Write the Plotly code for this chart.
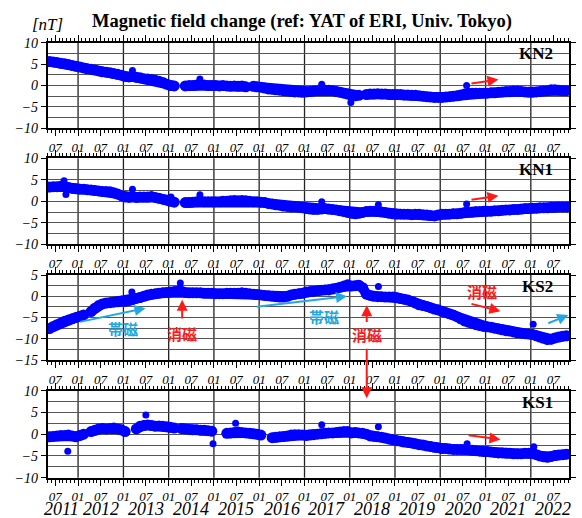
import pandas as pd
import plotly.graph_objects as go

N = None
# monthly values (mid-month), May 2011 .. Oct 2022
months = pd.date_range("2011-05-01", periods=138, freq="MS") + pd.Timedelta(days=14)

kn2 = ([5.6, 5.5, 5.4, 5.2, 5.1, 4.9, 4.7, 4.5] +
       [4.3, 4.1, 3.9, 3.8, 3.6, 3.4, 3.2, 3.1, 3.0, 2.8, 2.6, 2.4] +
       [2.1, 2.0, 2.1, 1.9, 1.8, 1.6, 1.5, 1.4, 1.2, 1.0, 0.7, 0.3] +
       [0.0, -0.1, N, N, -0.1, 0.0, 0.0, 0.1, 0.2, 0.1, 0.0, 0.0] +
       [0.0, -0.1, 0.0, -0.1, -0.2, -0.1, -0.2, -0.1, -0.3, N, -0.2, -0.3] +
       [-0.4, -0.6, -0.8, -0.9, -1.0, -1.1, -1.2, -1.3, -1.4, -1.5, -1.5, -1.6] +
       [-1.5, -1.4, -1.3, -1.2, -1.2, -1.1, -1.1, -1.2, -1.4, -1.6, -1.8, -2.0] +
       [-2.3, -2.4, -2.3, N, -2.1, -2.0, -2.0, -1.9, -2.0, -2.0, -2.1, -2.1] +
       [-2.1, -2.1, -2.2, -2.2, -2.3, -2.3, -2.4, -2.5, -2.6, -2.7, -2.8, -2.8] +
       [-2.8, -2.7, -2.6, -2.5, -2.4, -2.2, -2.0, -1.8, -1.8, -1.8, -1.8, -1.8] +
       [-1.8, -1.7, -1.7, -1.6, -1.5, -1.4, -1.4, -1.3, -1.3, -1.4, -1.5, -1.6] +
       [-1.6, -1.5, -1.4, -1.3, -1.2, -1.0, -1.0, -1.1, -1.2, -1.2])

kn1 = ([3.3, 3.4, 3.4, 3.5, 3.4, 3.2, 3.0, 2.9] +
       [2.8, 2.8, 2.7, 2.6, 2.5, 2.4, 2.3, 2.3, 2.2, 2.0, 1.7, 1.3] +
       [1.0, 0.9, 1.0, 0.9, 1.0, 1.0, 1.0, 1.1, 0.9, 0.7, 0.5, 0.3] +
       [0.0, -0.2, N, N, -0.3, -0.3, -0.2, -0.1, 0.0, -0.1, -0.1, -0.1] +
       [-0.1, -0.1, 0.0, 0.0, 0.1, 0.2, 0.1, 0.2, 0.1, 0.0, -0.1, -0.1] +
       [-0.2, -0.3, -0.5, -0.6, -0.8, -0.9, -1.1, -1.2, -1.3, -1.3, -1.4, -1.5] +
       [-1.7, -1.8, -1.9, -1.9, -1.8, -1.7, -1.8, -1.9, -2.0, -2.2, -2.4, -2.6] +
       [-2.8, -2.9, -2.8, -2.6, -2.4, -2.3, -2.3, -2.4, -2.5, -2.6, -2.8, -2.9] +
       [-3.0, -3.0, -3.0, -3.0, -3.1, -3.0, -3.0, -3.1, -3.2, -3.3, -3.4, -3.2] +
       [-3.0, -3.0, -3.0, -2.9, -2.9, -2.8, -2.6, -2.5, -2.5, -2.4, -2.4, -2.3] +
       [-2.3, -2.3, -2.2, -2.2, -2.1, -2.0, -2.0, -1.9, -1.9, -1.8, -1.7, -1.7] +
       [-1.6, -1.6, -1.5, -1.5, -1.5, -1.4, -1.4, -1.3, -1.3, -1.3])

ks2 = ([-7.6, -7.1, -6.7, -6.3, -5.9, -5.6, -5.3, -5.0] +
       [-4.7, -4.4, N, -3.6, -2.8, -2.2, -1.8, -1.6, -1.5, -1.4, -1.3, -1.2] +
       [-1.2, -1.0, -0.8, -0.5, -0.3, 0.0, 0.3, 0.5, 0.6, 0.7, 0.8, 0.9] +
       [1.0, 1.1, 1.2, 1.2, 0.9, 0.8, 0.8, 0.8, 0.8, 0.7, 0.7, 0.7] +
       [0.6, 0.6, 0.6, 0.7, 0.7, 0.7, 0.7, 0.8, 0.7, 0.6, 0.5, 0.4] +
       [0.3, 0.2, 0.1, 0.0, -0.1, -0.2, -0.2, 0.0, 0.3, 0.5, 0.6, 0.7] +
       [1.0, 1.1, 1.2, 1.3, 1.4, 1.5, 1.5, 1.7, 1.9, 2.1, 2.4, 2.7] +
       [2.4, 2.5, 2.6, 2.0, 0.5, 0.2, 0.0, -0.1, -0.1, -0.2, -0.2, -0.2] +
       [-0.3, -0.5, -0.7, -0.9, -1.2, -1.6, -2.0, -2.2, -2.4, -2.7, -3.0, -3.2] +
       [-3.5, -3.8, -4.1, -4.4, -4.8, -5.3, -5.8, -6.1, -6.4, -6.7, -6.9, -7.1] +
       [-7.2, -7.3, -7.5, -7.7, -7.9, -8.1, -8.2, -8.4, -8.6, -8.7, -8.8, -8.9] +
       [-9.0, -9.3, -9.6, -9.9, -10.2, -10.1, -9.8, -9.6, -9.4, -9.3])

ks1 = ([-0.6, -0.5, -0.4, -0.3, -0.3, -0.2, -0.4, -0.6] +
       [-0.3, 0.0, N, 0.6, 0.9, 1.2, 1.3, 1.2, 1.3, 1.4, 1.2, 1.0] +
       [0.6, N, N, 1.2, 1.8, 2.0, 2.1, 2.0, 1.8, 1.9, 1.8, 1.7] +
       [1.6, 1.4, N, 1.3, 1.2, 1.1, 1.0, 1.0, 0.9, 0.9, 0.8, 0.7] +
       [N, N, N, 0.2, 0.3, 0.4, 0.5, 0.4, 0.3, 0.2, 0.1, 0.0] +
       [-0.2, N, N, -0.8, -0.7, -0.6, -0.5, -0.4, -0.2, -0.1, -0.1, -0.2] +
       [-0.3, -0.2, -0.1, 0.0, 0.1, 0.2, 0.3, 0.3, 0.4, 0.5, 0.6, 0.6] +
       [0.3, 0.4, 0.3, 0.2, 0.0, -0.4, -0.5, -0.6, -0.7, -0.9, -1.1, -1.3] +
       [-1.5, -1.6, -1.8, -1.9, -2.0, -2.2, -2.4, -2.5, -2.7, -2.8, -3.0, -3.1] +
       [-3.3, -3.3, -3.4, -3.5, -3.5, -3.5, -3.5, -3.6, -3.7, -3.8, -3.9, -4.0] +
       [-4.0, -4.1, -4.2, -4.3, -4.3, -4.4, -4.4, -4.5, -4.5, -4.5, -4.4, -4.4] +
       [-4.4, -4.7, -5.0, -5.2, -5.3, -5.1, -4.9, -4.8, -4.7, -4.6])

# isolated spikes
kn2_out_t = ["2013-03-15", "2014-09-10", "2017-05-20", "2018-01-10", "2020-08-01"]
kn2_out_v = [3.5, 1.5, 0.3, -4.0, 0.0]
kn1_out_t = ["2011-09-10", "2011-09-25", "2013-03-15", "2014-01-20", "2014-09-10", "2017-05-20", "2018-08-20", "2020-08-01"]
kn1_out_v = [4.8, 1.6, 2.8, 1.0, 1.5, -0.1, -0.8, -0.6]
ks2_out_t = ["2013-03-10", "2014-04-05", "2018-08-20", "2022-01-20"]
ks2_out_v = [1.0, 3.1, 2.3, -6.6]
ks1_out_t = ["2011-10-10", "2013-07-01", "2014-12-25", "2015-06-25", "2017-05-20", "2018-08-20", "2020-08-05", "2022-01-25"]
ks1_out_v = [-3.9, 4.4, -2.2, 2.5, 2.2, 1.7, -2.2, -2.9]

stations = ["KN2", "KN1", "KS2", "KS1"]
series = [kn2, kn1, ks2, ks1]
outliers = [(kn2_out_t, kn2_out_v), (kn1_out_t, kn1_out_v), (ks2_out_t, ks2_out_v), (ks1_out_t, ks1_out_v)]
yranges = [[-10, 10], [-10, 10], [-15, 5], [-10, 10]]
ytickvals = [[-10, -5, 0, 5, 10], [-10, -5, 0, 5, 10], [-15, -10, -5, 0, 5], [-10, -5, 0, 5, 10]]

years = list(range(2011, 2023))
tick_dates = []
tick_text = []
for yr in years:
    if yr > 2011:
        tick_dates.append(f"{yr}-01-01"); tick_text.append("01")
    tick_dates.append(f"{yr}-07-01"); tick_text.append("07")

X_RANGE = ["2011-05-01", "2022-11-05"]
W, H = 582, 518
xdom = [47.7 / W, 569 / W]
ypix = [(42.7, 128.3), (158.3, 244.3), (275, 360), (390.7, 477.7)]
ydoms = [[1 - b / H, 1 - t / H] for t, b in ypix]

BLUE = "#0000ff"
RED = "#ff1a1a"
CYAN = "#22a8e0"
SERIF = "Liberation Serif"
CJK = "Noto Sans CJK JP"

XA = ["x", "x2", "x3", "x4"]
YA = ["y", "y2", "y3", "y4"]

fig = go.Figure()
layout = dict(width=W, height=H, margin=dict(l=0, r=0, t=0, b=0, pad=0),
              paper_bgcolor="white", plot_bgcolor="white", showlegend=False)
shapes = []
annotations = []

for k in range(4):
    xa, ya = XA[k], YA[k]
    xkey = "xaxis" + xa[1:]
    ykey = "yaxis" + ya[1:]
    fig.add_trace(go.Scatter(x=months, y=series[k], mode="lines+markers",
                             line=dict(color=BLUE, width=10),
                             marker=dict(color=BLUE, size=11),
                             xaxis=xa, yaxis=ya, hoverinfo="skip"))
    ot, ov = outliers[k]
    fig.add_trace(go.Scatter(x=ot, y=ov, mode="markers",
                             marker=dict(color=BLUE, size=7),
                             xaxis=xa, yaxis=ya, hoverinfo="skip"))
    layout[xkey] = dict(
        domain=xdom, anchor=ya, type="date", range=X_RANGE,
        tickmode="array", tickvals=tick_dates, ticktext=tick_text,
        ticks="outside", ticklen=6, tickwidth=1, tickcolor="black",
        minor=dict(tickmode="linear", tick0="2011-01-01", dtick="M1",
                   ticks="outside", ticklen=3, tickwidth=1, tickcolor="black", showgrid=False),
        showgrid=False, zeroline=False, showline=True, linewidth=2, linecolor="black",
        mirror="ticks", automargin=False,
        tickfont=dict(family=SERIF, size=13, color="black", style="italic"))
    layout[ykey] = dict(
        domain=ydoms[k], anchor=xa, range=yranges[k],
        tickmode="array", tickvals=ytickvals[k],
        ticks="outside", ticklen=5, tickwidth=1, tickcolor="black",
        showgrid=True, gridcolor="#555555", gridwidth=0.8, zeroline=False,
        minor=dict(tickmode="linear", tick0=0, dtick=2.5, showgrid=True,
                   gridcolor="#555555", gridwidth=0.8, ticks=""),
        showline=True, linewidth=2, linecolor="black", mirror="ticks", automargin=False,
        tickfont=dict(family=SERIF, size=14, color="black", style="italic"))
    for yr in years[1:]:
        shapes.append(dict(type="line", xref=xa, yref=f"{ya} domain",
                           x0=f"{yr}-01-01", x1=f"{yr}-01-01", y0=0, y1=1,
                           line=dict(color="#222222", width=1.3), layer="below"))
    annotations.append(dict(text=f"<b>{stations[k]}</b>", xref=f"{xa} domain", yref=f"{ya} domain",
                            x=0.973, y=0.87, xanchor="right", yanchor="middle", showarrow=False,
                            font=dict(family=SERIF, size=17, color="black")))

# year labels
for yr in years:
    annotations.append(dict(text=str(yr), xref="x4", yref="paper", x=f"{yr}-07-01", y=1 - 508.5 / H,
                            xshift=6 if yr == 2011 else 0,
                            xanchor="center", yanchor="middle", showarrow=False,
                            font=dict(family=SERIF, size=18, color="black", style="italic")))

annotations.append(dict(text="<b>Magnetic field change (ref: YAT of ERI, Univ. Tokyo)</b>",
                        xref="paper", yref="paper", x=301.7 / W, y=1 - 21.5 / H,
                        xanchor="center", yanchor="middle", showarrow=False,
                        font=dict(family=SERIF, size=18.5, color="black")))
annotations.append(dict(text="[nT]", xref="paper", yref="paper", x=47.5 / W, y=1 - 24 / H,
                        xanchor="center", yanchor="middle", showarrow=False,
                        font=dict(family=SERIF, size=17, color="black", style="italic")))


def arrow(xref, yref, x0, y0, x1, y1, color):
    annotations.append(dict(text="", xref=xref, yref=yref, axref=xref, ayref=yref,
                            x=x1, y=y1, ax=x0, ay=y0, showarrow=True,
                            arrowhead=2, arrowsize=1.1, arrowwidth=2, arrowcolor=color))


def label(xref, yref, x, y, text, color):
    annotations.append(dict(text=f"<b>{text}</b>", xref=xref, yref=yref, x=x, y=y,
                            xanchor="center", yanchor="middle", showarrow=False,
                            font=dict(family=CJK, size=15, color=color)))


arrow("x", "y", "2020-08-28", 0.4, "2021-04-15", 1.4, RED)
arrow("x2", "y2", "2020-08-28", 0.3, "2021-04-15", 1.3, RED)
arrow("x4", "y4", "2020-08-05", -0.2, "2021-05-01", -1.2, RED)

arrow("x3", "y3", "2012-01-05", -6.1, "2013-06-28", -2.8, CYAN)
label("x3", "y3", "2013-01-01", -7.6, "帯磁", CYAN)
arrow("x3", "y3", "2014-04-20", -5.6, "2014-04-20", -0.8, RED)
label("x3", "y3", "2014-04-20", -8.7, "消磁", RED)
arrow("x3", "y3", "2015-12-01", -2.5, "2017-12-10", 0.0, CYAN)
label("x3", "y3", "2017-06-05", -4.8, "帯磁", CYAN)
arrow("x3", "y3", "2018-05-18", -6.4, "2018-05-18", -2.1, RED)
label("x3", "y3", "2018-05-18", -9.1, "消磁", RED)
# long arrow from KS2 down into KS1 (head in KS1, tail 51 px above)
annotations.append(dict(text="", xref="x4", yref="y4", axref="pixel", ayref="pixel",
                        x="2018-05-18", y=8.25, ax=0, ay=-51,
                        showarrow=True, arrowhead=2, arrowsize=1.1, arrowwidth=2, arrowcolor=RED))
label("x3", "y3", "2020-12-05", 1.1, "消磁", RED)
arrow("x3", "y3", "2020-08-28", -1.7, "2021-05-01", -3.5, RED)
arrow("x3", "y3", "2022-05-10", -6.5, "2022-10-30", -4.4, CYAN)

layout["shapes"] = shapes
layout["annotations"] = annotations
fig.update_layout(**layout)
fig.write_html("out.html", config={"displayModeBar": False},
               post_script="document.body.style.margin='0';")
